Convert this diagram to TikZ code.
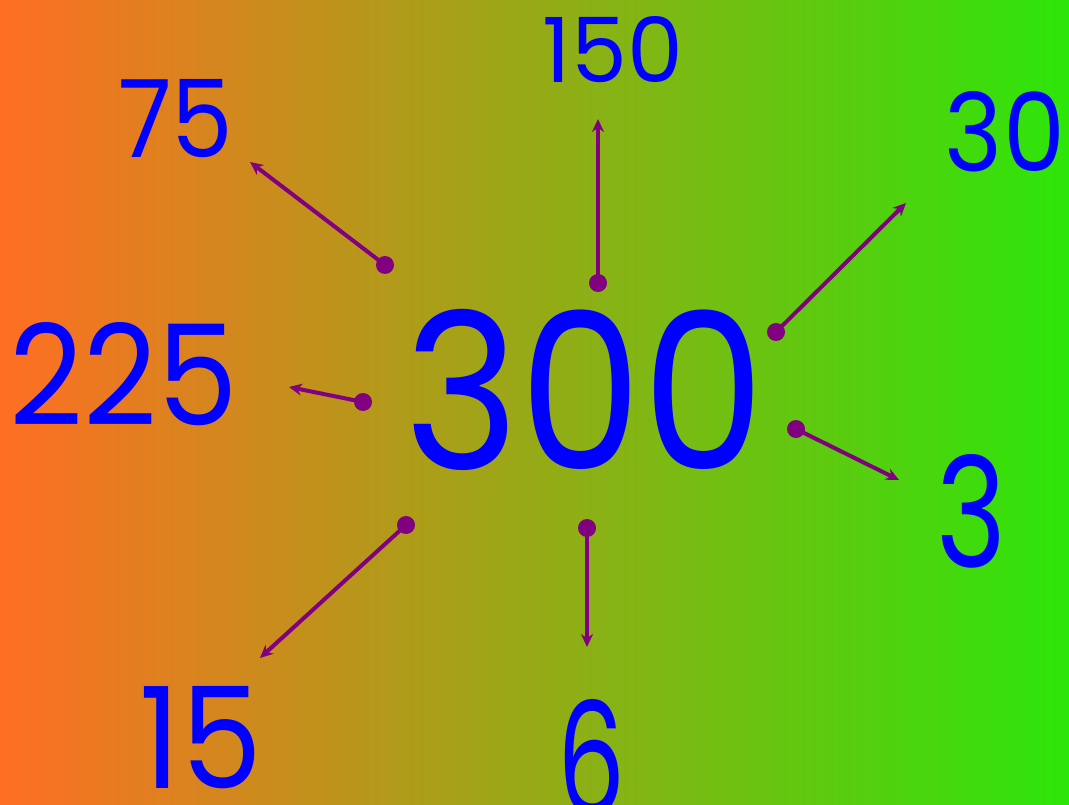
\documentclass[tikz,border=0pt]{standalone}
\usepackage{fontspec}
\setmainfont{Poppins}
\usetikzlibrary{arrows.meta}
\definecolor{bgleft}{RGB}{255,110,35}
\definecolor{bgright}{RGB}{45,230,10}
\definecolor{arr}{RGB}{128,0,128}
\definecolor{num}{RGB}{0,0,255}
\tikzset{
  numtxt/.style={inner sep=0pt, text=num},
  link/.style={draw=arr, line width=4pt, -{Stealth[length=13pt,width=12pt]}},
  dot/.style={fill=arr}
}
\newcommand{\numbox}[3]{\resizebox{#1pt}{#2pt}{#3}}
\begin{document}
\begin{tikzpicture}[x=1pt,y=-1pt]
\useasboundingbox (0,0) rectangle (1069,805);
\clip (0,0) rectangle (1069,805);
\shade[left color=bgleft, right color=bgright] (0,0) rectangle (1069,805);
% numbers
\node[numtxt] (n300) at (585,390) {\numbox{360}{160}{300}};
\node[numtxt] (n150) at (613,50) {\numbox{140}{66}{150}};
\node[numtxt] (n75) at (176,119) {\numbox{115}{78}{75}};
\node[numtxt] (n30) at (1005,132) {\numbox{120}{80}{30}};
\node[numtxt] (n225) at (124,374) {\numbox{228}{103}{225}};
\node[numtxt] (n3) at (972,511) {\numbox{70}{113}{3}};
\node[numtxt] (n15) at (201,738) {\numbox{122}{102}{15}};
\node[numtxt] (n6) at (592,758) {\numbox{68}{116}{6}};
% tails and heads
\coordinate (t75) at (385,265);  \coordinate (h75) at (250,162);
\coordinate (t150) at (598,283); \coordinate (h150) at (598,119);
\coordinate (t30) at (776,332);  \coordinate (h30) at (906,203);
\coordinate (t225) at (363,402); \coordinate (h225) at (289,387);
\coordinate (t3) at (796,429);   \coordinate (h3) at (899,480);
\coordinate (t15) at (406,525);  \coordinate (h15) at (260,658);
\coordinate (t6) at (587,528);   \coordinate (h6) at (587,647);
\foreach \k in {75,150,30,225,3,15,6}{
  \draw[link] (t\k) -- (h\k);
  \fill[dot] (t\k) circle (9);
}
\end{tikzpicture}
\end{document}
